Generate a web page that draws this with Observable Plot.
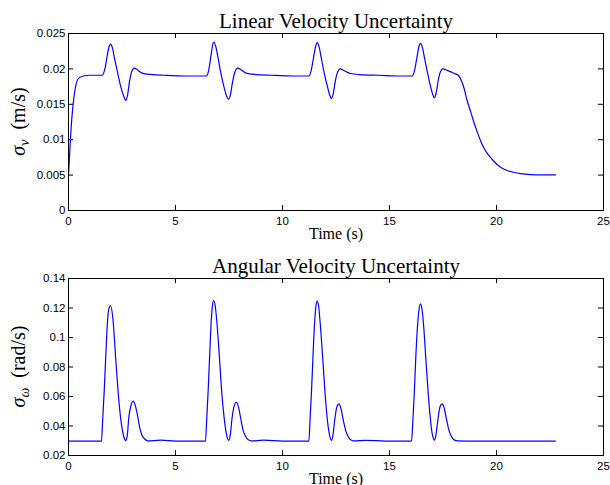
<!DOCTYPE html>
<html><head><meta charset="utf-8">
<script src="https://cdn.jsdelivr.net/npm/d3@7"></script>
<script src="https://cdn.jsdelivr.net/npm/@observablehq/plot@0.6"></script>
<style>body{margin:0;background:#fff} #chart svg{display:block}</style>
</head><body><div id="chart"></div>
<script>
const linearTime = [0,0.08,0.15,0.22,0.33,0.48,0.7,1.0,1.4,1.57,1.7,1.8,1.9,1.96,2.05,2.15,2.3,2.45,2.6,2.68,2.76,2.85,2.95,3.08,3.2,3.44,3.67,4.5,5.5,
  6.45,6.55,6.65,6.73,6.79,6.88,6.98,7.12,7.27,7.41,7.49,7.57,7.67,7.78,7.91,8.05,8.3,8.6,9.5,10.5,
  11.23,11.35,11.45,11.55,11.62,11.71,11.81,11.95,12.1,12.22,12.29,12.37,12.47,12.58,12.71,12.85,13.18,13.6,14.5,15.5,
  16.06,16.18,16.28,16.38,16.45,16.54,16.64,16.78,16.92,17.03,17.10,17.18,17.28,17.38,17.49,17.69,17.93,18.08,18.21,18.32,18.48,18.63,18.8,18.94,19.1,19.25,19.4,19.56,19.8,20.03,20.25,20.5,20.8,21.12,21.6,22.2,22.75];
const linearSigma = [0.005,0.0095,0.0128,0.0151,0.0175,0.0187,0.0190,0.0191,0.0191,0.0191,0.0200,0.0217,0.0232,0.0235,0.0230,0.0215,0.0194,0.0174,0.0160,0.01555,0.0163,0.0182,0.0196,0.0201,0.0199,0.0194,0.01925,0.0191,0.0190,
  0.0190,0.0198,0.0217,0.0233,0.0238,0.0232,0.0217,0.0194,0.0174,0.0160,0.0157,0.0164,0.0182,0.0196,0.0201,0.0199,0.0194,0.01925,0.0191,0.0190,
  0.0190,0.0199,0.0216,0.0232,0.0237,0.0231,0.0216,0.0194,0.0175,0.0162,0.0158,0.0165,0.0183,0.0196,0.0200,0.0198,0.01935,0.0192,0.0191,0.0190,
  0.0190,0.0199,0.0216,0.0232,0.0236,0.0230,0.0215,0.0194,0.0175,0.0163,0.0159,0.0166,0.0184,0.0196,0.0200,0.0198,0.0195,0.0193,0.0191,0.0186,0.0173,0.0155,0.0139,0.0125,0.0111,0.0099,0.0089,0.0081,0.0072,0.0065,0.0060,0.00565,0.0054,0.0052,0.00508,0.00504,0.00503];

const angularTime = [0,1.54,1.6,1.67,1.74,1.81,1.88,1.96,2.08,2.2,2.32,2.43,2.52,2.59,2.68,2.75,2.82,2.92,3.02,3.12,3.24,3.34,3.44,3.57,3.71,4.3,5.0,
  6.40,6.46,6.53,6.60,6.67,6.73,6.79,6.86,6.93,7.05,7.16,7.27,7.35,7.42,7.49,7.56,7.64,7.74,7.84,7.94,8.05,8.16,8.27,8.40,8.55,9.1,10.0,
  11.23,11.29,11.36,11.43,11.50,11.56,11.62,11.69,11.76,11.88,11.99,12.09,12.17,12.23,12.29,12.36,12.44,12.54,12.63,12.73,12.84,12.95,13.06,13.18,13.32,13.9,14.8,
  16.03,16.09,16.16,16.23,16.31,16.38,16.45,16.52,16.59,16.70,16.81,16.91,16.98,17.04,17.10,17.17,17.26,17.36,17.46,17.56,17.67,17.78,17.89,18.02,18.2,19.0,22.75];
const angularSigma = [0.0297,0.0297,0.045,0.064,0.087,0.108,0.119,0.1217,0.112,0.087,0.063,0.046,0.037,0.0324,0.0302,0.034,0.046,0.054,0.0568,0.054,0.046,0.038,0.0336,0.031,0.0299,0.0304,0.0298,
  0.0297,0.045,0.065,0.089,0.111,0.122,0.1251,0.121,0.111,0.087,0.063,0.046,0.037,0.032,0.0302,0.034,0.045,0.0535,0.0561,0.053,0.045,0.037,0.033,0.0306,0.0299,0.0304,0.0298,
  0.0297,0.045,0.065,0.089,0.110,0.121,0.1246,0.121,0.110,0.086,0.062,0.045,0.036,0.032,0.0302,0.034,0.044,0.053,0.055,0.052,0.044,0.037,0.033,0.0306,0.0299,0.0303,0.0298,
  0.0297,0.043,0.063,0.087,0.108,0.119,0.1228,0.119,0.109,0.085,0.062,0.045,0.036,0.032,0.0302,0.034,0.044,0.053,0.055,0.052,0.044,0.037,0.033,0.0306,0.0299,0.0297,0.0297];

const timeTicks = [0, 5, 10, 15, 20, 25];
const linearTicks = [0, 0.005, 0.01, 0.015, 0.02, 0.025];
const angularTicks = [0.02, 0.04, 0.06, 0.08, 0.1, 0.12, 0.14];

const serif = "'Liberation Serif', 'Times New Roman', serif";
const W = 610, ML = 68, MR = 7;

function panel({time, sigma, yTicks, title, symbol, unit, height, marginTop, marginBottom}) {
  const data = time.map((t, i) => ({t, s: sigma[i]}));
  const innerH = height - marginTop - marginBottom;
  const innerW = W - ML - MR;
  const tick = {stroke: "#000", strokeOpacity: 1, strokeWidth: 1};
  const svg = Plot.plot({
    width: W, height, marginLeft: ML, marginRight: MR, marginTop, marginBottom,
    style: {fontFamily: "'Liberation Sans', Arial, sans-serif", fontSize: "11.5px", color: "#000", background: "#fff", overflow: "visible"},
    x: {domain: [timeTicks[0], timeTicks[timeTicks.length - 1]]},
    y: {domain: [yTicks[0], yTicks[yTicks.length - 1]]},
    marks: [
      Plot.gridX(timeTicks, {...tick, insetTop: innerH - 5}),
      Plot.gridX(timeTicks, {...tick, insetBottom: innerH - 5}),
      Plot.gridY(yTicks, {...tick, insetRight: innerW - 5}),
      Plot.gridY(yTicks, {...tick, insetLeft: innerW - 5}),
      Plot.line(data, {x: "t", y: "s", stroke: "#0000ff", strokeWidth: 1.2, curve: "monotone-x"}),
      Plot.frame({stroke: "#000"}),
      Plot.axisX(timeTicks, {tickSize: 0, tickPadding: 6, label: null, tickFormat: d => String(d)}),
      Plot.axisY(yTicks, {tickSize: 0, tickPadding: 3, label: null, tickFormat: d => String(d)}),
      Plot.text([title], {frameAnchor: "top", dy: -6, lineAnchor: "bottom", fontFamily: serif, fontSize: 21}),
      Plot.text(["Time (s)"], {frameAnchor: "bottom", dy: 28, lineAnchor: "bottom", fontFamily: serif, fontSize: 16})
    ]
  });
  const lbl = d3.select(svg).append("text")
    .attr("transform", `translate(25,${marginTop + innerH / 2}) rotate(-90)`)
    .attr("text-anchor", "middle")
    .attr("font-family", serif).attr("font-size", 20).attr("fill", "#000");
  lbl.append("tspan").attr("font-style", "italic").text("σ");
  lbl.append("tspan").attr("font-style", "italic").attr("font-size", 14).attr("dy", 4).text(symbol);
  lbl.append("tspan").attr("dy", -4).text("\u2002(" + unit + ")");
  return svg;
}

const chart = document.getElementById("chart");
chart.append(panel({time: linearTime, sigma: linearSigma, yTicks: linearTicks,
  title: "Linear Velocity Uncertainty", symbol: "v", unit: "m/s", height: 243, marginTop: 33, marginBottom: 33}));
chart.append(panel({time: angularTime, sigma: angularSigma, yTicks: angularTicks,
  title: "Angular Velocity Uncertainty", symbol: "ω", unit: "rad/s", height: 242, marginTop: 35, marginBottom: 30}));
</script>
</body></html>
